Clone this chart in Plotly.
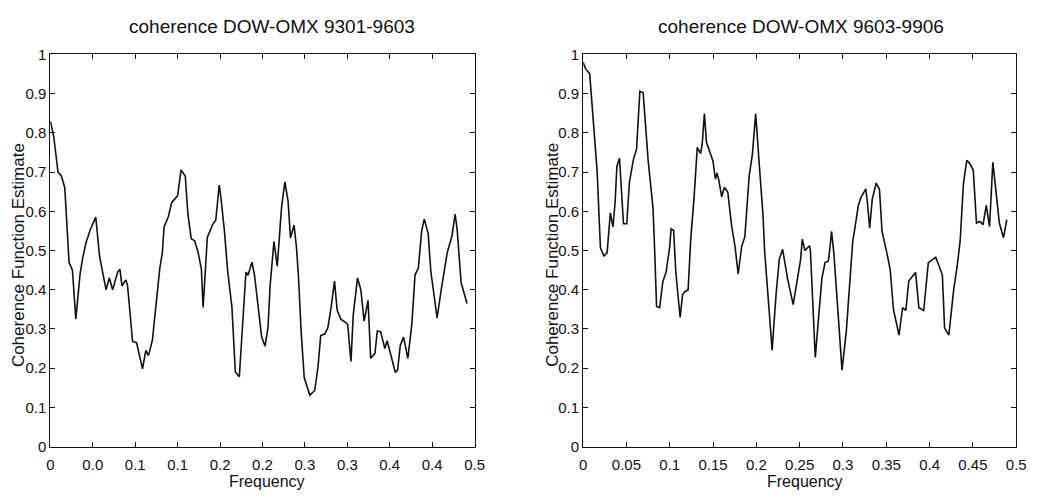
import plotly.graph_objects as go

# Coherence estimates, DOW vs OMX, two sample periods
freq_9301 = [0.000, 0.004, 0.009, 0.013, 0.017, 0.022, 0.026, 0.030, 0.035, 0.038,
             0.042, 0.047, 0.0535, 0.058, 0.0656, 0.0695, 0.0734, 0.0793, 0.082, 0.0844,
             0.089, 0.091, 0.0969, 0.1016, 0.1086, 0.1125, 0.1156, 0.1203, 0.129, 0.132,
             0.134, 0.139, 0.143, 0.150, 0.154, 0.159, 0.162, 0.166, 0.170, 0.174,
             0.178, 0.180, 0.183, 0.185, 0.191, 0.195, 0.199, 0.201, 0.205, 0.209,
             0.214, 0.218, 0.2227, 0.226, 0.2305, 0.233, 0.2375, 0.2406, 0.249, 0.253,
             0.2565, 0.259, 0.261, 0.2635, 0.2674, 0.2725, 0.2764, 0.2802, 0.283, 0.2872,
             0.290, 0.2925, 0.2955, 0.2992, 0.3058, 0.3116, 0.3155, 0.3186, 0.3233, 0.3271,
             0.331, 0.3349, 0.338, 0.3426, 0.3484, 0.3504, 0.3543, 0.357, 0.362, 0.3659,
             0.3698, 0.3744, 0.3775, 0.3826, 0.3853, 0.3892, 0.3942, 0.3969, 0.4008, 0.4066,
             0.4093, 0.4124, 0.4163, 0.4213, 0.426, 0.4298, 0.4337, 0.4376, 0.4407, 0.4453,
             0.4484, 0.4558, 0.4608, 0.4678, 0.4733, 0.4771, 0.4795, 0.4822, 0.4841, 0.4911]
coh_9301 = [0.83, 0.79, 0.70, 0.69, 0.66, 0.47, 0.45, 0.325, 0.44, 0.48,
            0.52, 0.553, 0.585, 0.485, 0.40, 0.43, 0.40, 0.445, 0.452, 0.41,
            0.425, 0.41, 0.268, 0.265, 0.198, 0.245, 0.232, 0.272, 0.455, 0.495,
            0.56, 0.586, 0.622, 0.64, 0.705, 0.69, 0.595, 0.53, 0.525, 0.497,
            0.452, 0.355, 0.46, 0.533, 0.565, 0.578, 0.667, 0.635, 0.553, 0.447,
            0.355, 0.19, 0.178, 0.29, 0.445, 0.437, 0.47, 0.437, 0.28, 0.256,
            0.303, 0.41, 0.46, 0.523, 0.46, 0.61, 0.675, 0.625, 0.532, 0.565,
            0.51, 0.43, 0.295, 0.176, 0.131, 0.143, 0.205, 0.283, 0.287, 0.303,
            0.357, 0.422, 0.348, 0.324, 0.316, 0.311, 0.217, 0.336, 0.43, 0.40,
            0.32, 0.373, 0.225, 0.238, 0.295, 0.293, 0.25, 0.27, 0.238, 0.189,
            0.195, 0.258, 0.279, 0.225, 0.311, 0.438, 0.455, 0.55, 0.58, 0.543,
            0.447, 0.328, 0.402, 0.495, 0.537, 0.593, 0.552, 0.462, 0.418, 0.365]

freq_9603 = [0.000, 0.003, 0.0076, 0.011, 0.0163, 0.018, 0.020, 0.0239, 0.0277, 0.0314,
             0.0345, 0.037, 0.039, 0.042, 0.0447, 0.0466, 0.0504, 0.0534, 0.058, 0.0617,
             0.0655, 0.0693, 0.075, 0.0807, 0.0826, 0.0848, 0.0883, 0.092, 0.0958, 0.0985,
             0.100, 0.1015, 0.1045, 0.107, 0.1091, 0.112, 0.1148, 0.1174, 0.1212, 0.1242,
             0.128, 0.1318, 0.1356, 0.1375, 0.140, 0.1424, 0.147, 0.150, 0.1527, 0.1545,
             0.1564, 0.160, 0.163, 0.167, 0.1716, 0.1754, 0.179, 0.183, 0.1867, 0.1917,
             0.1955, 0.1992, 0.2038, 0.2076, 0.2095, 0.2133, 0.2182, 0.2227, 0.2265, 0.2303,
             0.236, 0.2425, 0.2474, 0.2511, 0.253, 0.256, 0.2613, 0.2624, 0.268, 0.2711,
             0.2756, 0.2793, 0.2831, 0.285, 0.2868, 0.2895, 0.2925, 0.2989, 0.3038, 0.3075,
             0.3113, 0.3132, 0.3177, 0.3207, 0.3263, 0.3282, 0.3308, 0.3338, 0.3383, 0.3421,
             0.3451, 0.3508, 0.3545, 0.3583, 0.3647, 0.3688, 0.3726, 0.3759, 0.3838, 0.3876,
             0.3932, 0.3985, 0.4071, 0.4147, 0.4173, 0.4222, 0.4278, 0.4316, 0.4353, 0.4391,
             0.4429, 0.4466, 0.4504, 0.4541, 0.4579, 0.4617, 0.4654, 0.4692, 0.473, 0.4748,
             0.4805, 0.4853, 0.4891]
coh_9603 = [0.98, 0.963, 0.951, 0.853, 0.698, 0.608, 0.507, 0.486, 0.494, 0.596,
            0.56, 0.625, 0.715, 0.735, 0.649, 0.568, 0.568, 0.674, 0.731, 0.759,
            0.906, 0.902, 0.731, 0.608, 0.50, 0.357, 0.354, 0.42, 0.445, 0.486,
            0.51, 0.555, 0.551, 0.445, 0.395, 0.329, 0.387, 0.395, 0.399, 0.527,
            0.633, 0.763, 0.747, 0.771, 0.849, 0.776, 0.747, 0.727, 0.682, 0.698,
            0.682, 0.637, 0.661, 0.649, 0.56, 0.51, 0.44, 0.51, 0.535, 0.69,
            0.747, 0.849, 0.706, 0.592, 0.50, 0.395, 0.246, 0.387, 0.478, 0.503,
            0.428, 0.362, 0.423, 0.477, 0.529, 0.50, 0.512, 0.50, 0.227, 0.301,
            0.428, 0.469, 0.473, 0.508, 0.549, 0.492, 0.399, 0.195, 0.293, 0.416,
            0.525, 0.549, 0.615, 0.635, 0.657, 0.623, 0.557, 0.631, 0.672, 0.656,
            0.549, 0.492, 0.451, 0.349, 0.284, 0.354, 0.347, 0.422, 0.444, 0.354,
            0.347, 0.469, 0.483, 0.438, 0.302, 0.284, 0.40, 0.456, 0.525, 0.672,
            0.73, 0.721, 0.705, 0.57, 0.574, 0.566, 0.615, 0.561, 0.725, 0.689,
            0.57, 0.533, 0.578]

titles = ["coherence DOW-OMX 9301-9603", "coherence DOW-OMX 9603-9906"]
x_label = "Frequency"
y_label = "Coherence Function Estimate"

x_tickvals = [0, 0.05, 0.1, 0.15, 0.2, 0.25, 0.3, 0.35, 0.4, 0.45, 0.5]
x_ticktext_left = ["0", "0.0", "0.1", "0.1", "0.2", "0.2", "0.3", "0.3", "0.4", "0.4", "0.5"]
x_ticktext_right = ["0", "0.05", "0.1", "0.15", "0.2", "0.25", "0.3", "0.35", "0.4", "0.45", "0.5"]
y_tickvals = [0, 0.1, 0.2, 0.3, 0.4, 0.5, 0.6, 0.7, 0.8, 0.9, 1]
y_ticktext = ["0", "0.1", "0.2", "0.3", "0.4", "0.5", "0.6", "0.7", "0.8", "0.9", "1"]

W, H = 1043, 499
FONT = "Liberation Sans, Arial, Helvetica, sans-serif"
INK = "#111111"

# panel boxes in pixels: (left, right), top, bottom
panels = [(47, 477), (587, 1026)]
top_px, bottom_px = 47, 453

fig = go.Figure()
fig.add_trace(go.Scatter(x=freq_9301, y=coh_9301, mode="lines",
                         line=dict(color=INK, width=1.6), xaxis="x", yaxis="y"))
fig.add_trace(go.Scatter(x=freq_9603, y=coh_9603, mode="lines",
                         line=dict(color=INK, width=1.6), xaxis="x2", yaxis="y2"))

ydom = [(H - bottom_px) / H, (H - top_px) / H]
axis_common = dict(showgrid=False, zeroline=False, showline=True, linecolor=INK,
                   linewidth=1, mirror="ticks", ticks="inside", ticklen=5,
                   tickwidth=1, tickcolor=INK,
                   tickfont=dict(family=FONT, size=15, color=INK))

layout = dict(width=W, height=H, margin=dict(l=0, r=0, t=0, b=0),
              paper_bgcolor="white", plot_bgcolor="white", showlegend=False)

for i, ((l, r), ttxt) in enumerate(zip(panels, [x_ticktext_left, x_ticktext_right])):
    sx = "" if i == 0 else str(i + 1)
    layout["xaxis" + sx] = dict(axis_common, domain=[l / W, r / W], range=[0, 0.5],
                                tickmode="array", tickvals=x_tickvals, ticktext=ttxt,
                                ticklabelstandoff=4, anchor="y" + sx)
    layout["yaxis" + sx] = dict(axis_common, domain=ydom, range=[0, 1],
                                tickmode="array", tickvals=y_tickvals, ticktext=y_ticktext,
                                anchor="x" + sx)

fig.update_layout(**layout)

annotations = []
title_x = [272, 808]
xlabel_x = [267, 812]
ylabel_x = [15, 556]
for i in range(2):
    annotations.append(dict(text=titles[i], x=title_x[i] / W, y=1 - 18 / H,
                            xref="paper", yref="paper", showarrow=False,
                            xanchor="center", yanchor="middle",
                            font=dict(family=FONT, size=19, color=INK)))
    annotations.append(dict(text=x_label, x=xlabel_x[i] / W, y=1 - 489 / H,
                            xref="paper", yref="paper", showarrow=False,
                            xanchor="center", yanchor="middle",
                            font=dict(family=FONT, size=16, color=INK)))
    annotations.append(dict(text=y_label, x=ylabel_x[i] / W, y=1 - 255 / H,
                            xref="paper", yref="paper", showarrow=False,
                            xanchor="center", yanchor="middle", textangle=-90,
                            font=dict(family=FONT, size=17, color=INK)))
fig.update_layout(annotations=annotations)

fig.write_html("out.html")
